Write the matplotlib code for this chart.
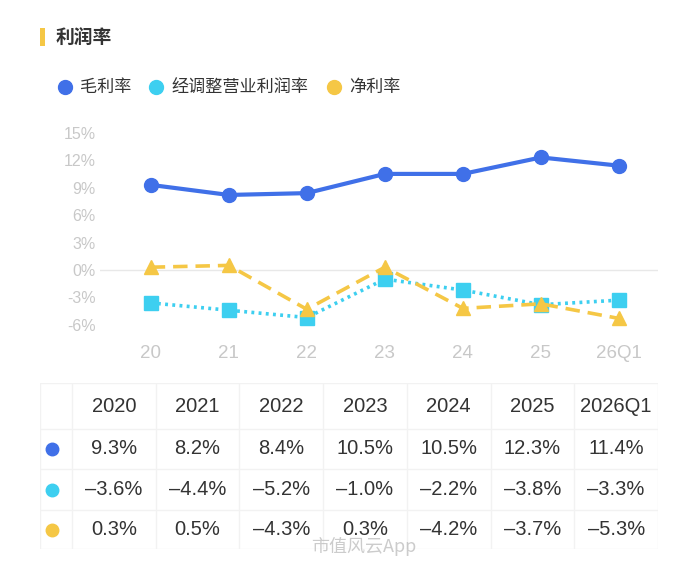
import matplotlib

matplotlib.use("Agg")
import matplotlib.pyplot as plt
from matplotlib.lines import Line2D
from matplotlib.patches import Rectangle

plt.rcParams["font.family"] = ["Noto Sans CJK SC", "DejaVu Sans"]
NUM_FONT = ["Liberation Sans", "Noto Sans CJK SC"]

# Data ---------------------------------------------------------------
axis_labels = ["20", "21", "22", "23", "24", "25", "26Q1"]
table_headers = ["2020", "2021", "2022", "2023", "2024", "2025", "2026Q1"]
series_names = ["毛利率", "经调整营业利润率", "净利率"]
gross_margin = [9.3, 8.2, 8.4, 10.5, 10.5, 12.3, 11.4]
adj_op_margin = [-3.6, -4.4, -5.2, -1.0, -2.2, -3.8, -3.3]
net_margin = [0.3, 0.5, -4.3, 0.3, -4.2, -3.7, -5.3]
y_ticks = [-6, -3, 0, 3, 6, 9, 12, 15]

BLUE = "#4070E8"
CYAN = "#3DCFF0"
YELLOW = "#F5C745"
TEXT = "#333333"
GRID = "#F2F2F2"
TICK = "#C8C8C8"

W, H = 700, 563
fig = plt.figure(figsize=(W / 100, H / 100), dpi=100)
fig.patch.set_facecolor("white")


def fx(px):
    return px / W


def fy(py):
    return 1 - py / H


# Header -------------------------------------------------------------
fig.add_artist(Rectangle((fx(40), fy(46)), fx(5), 18 / H, color=YELLOW,
                         transform=fig.transFigure, lw=0))
fig.text(fx(56), fy(37), "利润率", fontsize=13.5, fontweight="bold",
         color=TEXT, va="center", ha="left")

legend_x = [65, 156, 334]
colors = [BLUE, CYAN, YELLOW]
for x, name, c in zip(legend_x, series_names, colors):
    fig.add_artist(Line2D([fx(x)], [fy(87)], marker="o", markersize=10,
                          color=c, transform=fig.transFigure))
    fig.text(fx(x + 15), fy(87), name, fontsize=12.3, color=TEXT,
             va="center", ha="left")

# Line chart ---------------------------------------------------------
ax = fig.add_axes([fx(100), fy(334), fx(558), 204 / H])
xs = list(range(len(axis_labels)))
ax.axhline(0, color="#E8E8E8", lw=1, zorder=0)
ax.plot(xs, gross_margin, color=BLUE, lw=3, marker="o", markersize=10,
        zorder=3)
ax.plot(xs, adj_op_margin, color=CYAN, lw=2.6, ls=(0, (0.8, 1.2)),
        marker="s", markersize=9.5, zorder=2)
ax.plot(xs, net_margin, color=YELLOW, lw=2.6, ls=(0, (4, 2.2)),
        marker="^", markersize=9.5, zorder=2)
ax.set_xlim(-0.65, 6.5)
ax.set_ylim(-7, 15.3)
ax.set_yticks(y_ticks)
ax.set_yticklabels([f"{t}%" for t in y_ticks], family=NUM_FONT)
ax.set_xticks(xs)
ax.set_xticklabels(axis_labels, family=NUM_FONT)
ax.tick_params(axis="y", length=0, pad=3, labelsize=11.5, labelcolor=TICK)
ax.tick_params(axis="x", length=0, pad=8, labelsize=13.5, labelcolor=TICK)
for s in ax.spines.values():
    s.set_visible(False)

# Table --------------------------------------------------------------
tab = fig.add_axes([fx(40), fy(549), fx(618), 166 / H])
tab.set_xlim(40, 658)
tab.set_ylim(549, 383)
tab.axis("off")
col_edges = [40, 72] + [72 + (658 - 72) * (i + 1) / 7 for i in range(7)]
row_edges = [383, 429, 469, 510, 549]
for x in col_edges:
    tab.plot([x, x], [row_edges[0], row_edges[-1]], color=GRID, lw=1)
for y in row_edges:
    tab.plot([col_edges[0], col_edges[-1]], [y, y], color=GRID, lw=1)

row_centers = [(a + b) / 2 for a, b in zip(row_edges[:-1], row_edges[1:])]
col_centers = [(a + b) / 2 for a, b in zip(col_edges[1:-1], col_edges[2:])]
for cx, h in zip(col_centers, table_headers):
    tab.text(cx, row_centers[0], h, ha="center", va="center", fontsize=14.5,
             color=TEXT, family=NUM_FONT)
for r, (vals, c) in enumerate(zip([gross_margin, adj_op_margin, net_margin],
                                  colors)):
    cy = row_centers[r + 1]
    tab.plot([52], [cy], marker="o", markersize=9, color=c)
    for cx, v in zip(col_centers, vals):
        tab.text(cx, cy, f"{v:.1f}%".replace("-", "–"), ha="center",
                 va="center", fontsize=14.5, color=TEXT, family=NUM_FONT)

fig.text(fx(311), fy(547), "市值风云App", fontsize=13, color="#BBBBBB",
         alpha=0.75, ha="left", va="center")

fig.savefig("out.png", dpi=100)
